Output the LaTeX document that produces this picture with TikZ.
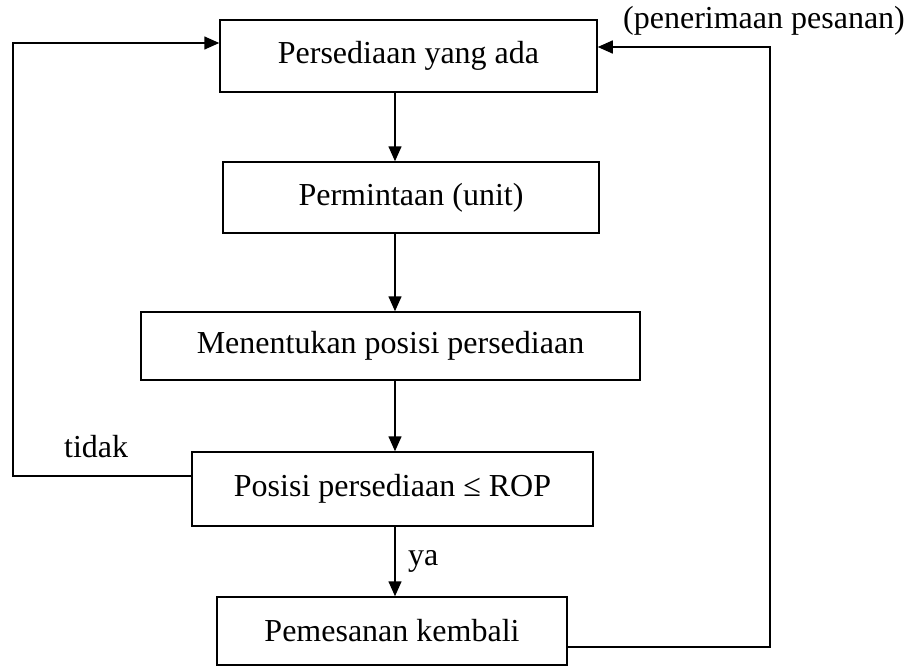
\documentclass[tikz,border=0pt]{standalone}
\usepackage{fontspec}
\setmainfont{Liberation Serif}
\usetikzlibrary{arrows.meta,calc}
\begin{document}
\begin{tikzpicture}[x=1pt,y=-1pt,
  box/.style={draw,line width=1.5pt,inner sep=0pt,font=\fontsize{32}{36}\selectfont},
  lbl/.style={inner sep=0pt,font=\fontsize{32}{36}\selectfont},
  conn/.style={line width=1.5pt},
  arr/.style={conn,-{Triangle[length=15pt,width=13pt]}}]
\useasboundingbox (0,0) rectangle (911,667);

\node[box,minimum width=377pt,minimum height=72pt] (b1) at (408.5,56) {Persediaan yang ada};
\node[box,minimum width=376pt,minimum height=71pt] (b2) at (411,197.5) {Permintaan (unit)};
\node[box,minimum width=499pt,minimum height=68pt] (b3) at (390.5,346) {Menentukan posisi persediaan};
\node[box,minimum width=401pt,minimum height=74pt] (b4) at (392.5,489) {Posisi persediaan ≤ ROP};
\node[box,minimum width=350pt,minimum height=68pt] (b5) at (392,631) {Pemesanan kembali};

\coordinate (ax) at (395,0);
\draw[arr] (b1.south -| ax) -- (b2.north -| ax);
\draw[arr] (b2.south -| ax) -- (b3.north -| ax);
\draw[arr] (b3.south -| ax) -- (b4.north -| ax);
\draw[arr] (b4.south -| ax) -- (b5.north -| ax);

\coordinate (L) at (13,0);
\coordinate (R) at (770,0);
\coordinate (b4w) at ($(b4.west)+(0,-13)$);
\coordinate (b1w) at ($(b1.west)+(0,-13)$);
\coordinate (b5e) at ($(b5.east)+(0,16)$);
\coordinate (b1e) at ($(b1.east)+(0,-9)$);
\draw[arr] (b4w) -- (b4w -| L) -- (L |- b1w) -- (b1w);
\draw[arr] (b5e) -- (b5e -| R) -- (R |- b1e) -- (b1e);

\node[lbl,anchor=base west] (tidak) at (64,457) {tidak};
\node[lbl,anchor=base west] (ya) at (408,565) {ya};
\node[lbl,anchor=base west] (pen) at (623,28) {(penerimaan pesanan)};
\end{tikzpicture}
\end{document}
